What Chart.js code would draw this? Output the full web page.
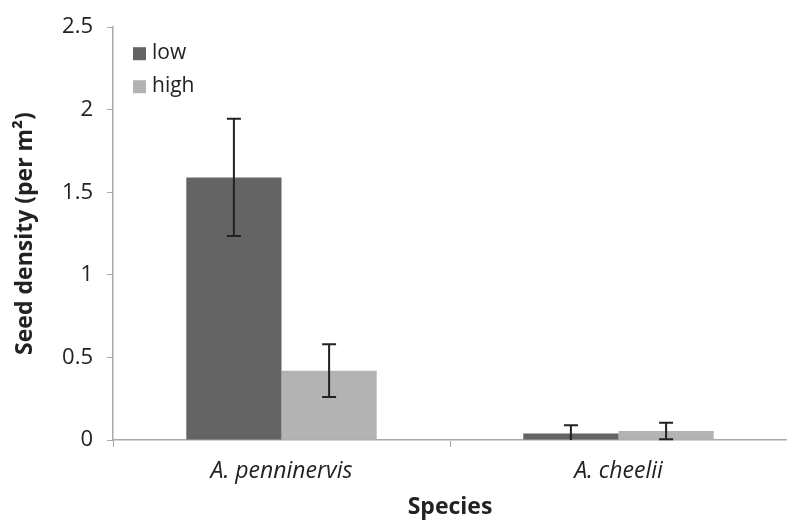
<!DOCTYPE html>
<html>
<head>
<meta charset="utf-8">
<script src="https://cdn.jsdelivr.net/npm/chart.js@4"></script>
<style>
  html, body { margin: 0; padding: 0; background: #fff; }
  #wrap { width: 787px; height: 521px; }
</style>
</head>
<body>
<div id="wrap"><canvas id="seedChart" width="787" height="521"></canvas></div>
<script>
const species = ['A. penninervis', 'A. cheelii'];
const lowValues = [1.59, 0.04];
const highValues = [0.42, 0.055];
const lowErrors = [0.355, 0.05];
const highErrors = [0.16, 0.05];
const yTicks = [0, 0.5, 1, 1.5, 2, 2.5];

const font = '"Open Sans", Lato, sans-serif';

// error bars + legend drawn on top of the bars
const extras = {
  id: 'extras',
  afterDatasetsDraw(chart) {
    const ctx = chart.ctx;
    const y = chart.scales.y;
    const errs = [lowErrors, highErrors];
    ctx.save();
    ctx.strokeStyle = '#222';
    ctx.lineWidth = 2;
    chart.data.datasets.forEach((ds, i) => {
      chart.getDatasetMeta(i).data.forEach((bar, j) => {
        const lo = ds.data[j] - errs[i][j];
        const top = y.getPixelForValue(ds.data[j] + errs[i][j]);
        const bot = y.getPixelForValue(Math.max(0, lo));
        ctx.beginPath();
        ctx.moveTo(bar.x, top); ctx.lineTo(bar.x, bot);
        ctx.moveTo(bar.x - 7, top); ctx.lineTo(bar.x + 7, top);
        if (lo > 0) { ctx.moveTo(bar.x - 7, bot); ctx.lineTo(bar.x + 7, bot); }
        ctx.stroke();
      });
    });
    // legend inside the plot
    const area = chart.chartArea;
    ctx.font = '21px ' + font;
    ctx.textBaseline = 'middle';
    chart.data.datasets.forEach((ds, i) => {
      const ly = area.top + 26 + i * 33;
      ctx.fillStyle = ds.backgroundColor;
      ctx.fillRect(area.left + 20, ly - 6, 13, 13);
      ctx.fillStyle = '#222';
      ctx.fillText(ds.label, area.left + 39, ly);
    });
    ctx.restore();
  }
};

new Chart(document.getElementById('seedChart').getContext('2d'), {
  type: 'bar',
  data: {
    labels: species,
    datasets: [
      { label: 'low', data: lowValues, backgroundColor: '#646464' },
      { label: 'high', data: highValues, backgroundColor: '#b3b3b3' }
    ]
  },
  options: {
    responsive: false,
    animation: false,
    layout: { padding: { top: 6, right: 0, left: 9, bottom: 0 } },
    datasets: { bar: { categoryPercentage: 0.565, barPercentage: 1 } },
    plugins: { legend: { display: false }, tooltip: { enabled: false } },
    scales: {
      x: {
        afterFit: axis => { axis.height = 81; },
        border: { color: '#aaa', width: 1.5 },
        grid: { drawOnChartArea: false, color: '#aaa', tickLength: 7, offset: true },
        ticks: { color: '#222', font: { family: font, size: 23, style: 'italic' }, padding: 11 },
        title: { display: true, text: 'Species', color: '#222', font: { family: font, size: 23, weight: 'bold' }, padding: { top: 0, bottom: 0 } }
      },
      y: {
        min: 0, max: 2.5,
        afterBuildTicks: axis => { axis.ticks = yTicks.map(v => ({ value: v })); },
        afterFit: axis => { axis.width = 104; },
        border: { color: '#aaa', width: 1.5 },
        grid: { drawOnChartArea: false, color: '#aaa', tickLength: 6 },
        ticks: { color: '#222', font: { family: font, size: 22 }, padding: 14, callback: v => String(v) },
        title: { display: true, text: 'Seed density (per m²)', color: '#222', font: { family: font, size: 23, weight: 'bold' }, padding: { top: 3, bottom: 4 } }
      }
    }
  },
  plugins: [extras]
});
</script>
</body>
</html>
